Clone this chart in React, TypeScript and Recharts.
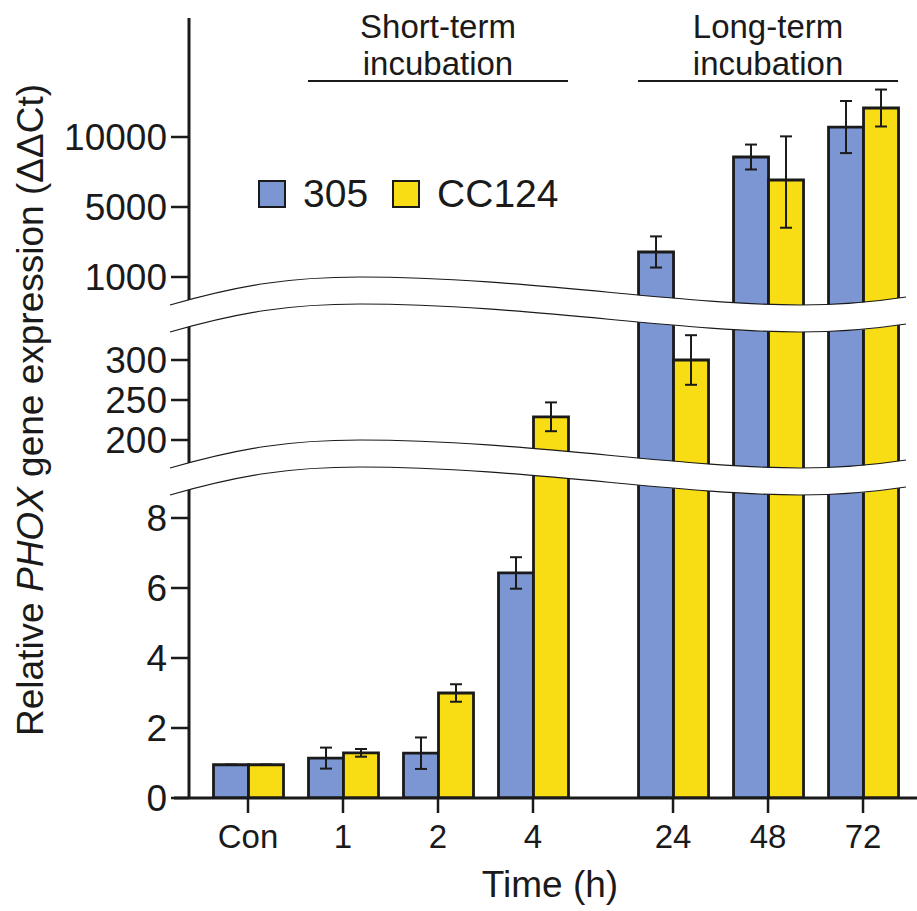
import React from 'react';
import { BarChart, Bar, XAxis, YAxis, ErrorBar, Legend } from 'recharts';

const TIMES = ['Con', '1', '2', '4', '24', '48', '72'];
const MEAN_305 = [0.95, 1.14, 1.28, 6.43, 2430, 8570, 10710];
const SD_305 = [0, 0.3, 0.45, 0.45, 890, 890, 1860];
const MEAN_CC124 = [0.95, 1.29, 3.0, 229, 300, 6930, 12070];
const SD_CC124 = [0, 0.11, 0.25, 18, 31, 3115, 1320];

const LOW_TICKS = [0, 2, 4, 6, 8];
const MID_TICKS = [200, 250, 300];
const HIGH_TICKS = [1000, 5000, 10000];

const FONT = '"Liberation Sans", Arial, sans-serif';
const INK = '#1a1a1a';
const BLUE = '#7b96d2';
const YELLOW = '#f8dc14';

const W = 917;
const H = 911;
const AXIS_X = 189;
const BASE_Y = 798;
const TOP_Y = 18;

// broken y axis: value -> px above the baseline, three linear pieces
const broken = (v: number) => {
  if (v < 100) return v * 35;
  if (v < 700) return 358 + (v - 200) * 0.8;
  if (v <= 5000) return 521 + (v - 1000) * 0.0175;
  return 591 + (v - 5000) * 0.014;
};

// long-term group sits a bit further right
const slotOf = (i: number) => i + (i >= 4 ? 0.474 : 0);
const X_MIN = (AXIS_X - 248) / 95;
const X_MAX = (W - 248) / 95;
const xPx = (s: number) => AXIS_X + ((s - X_MIN) / (X_MAX - X_MIN)) * (W - AXIS_X);

const errOf = (m: number, sd: number) => [broken(m) - broken(m - sd), broken(m + sd) - broken(m)];

const rows = TIMES.map((t, i) => ({
  time: t,
  slot: slotOf(i),
  a: broken(MEAN_305[i]),
  b: broken(MEAN_CC124[i]),
  aErr: errOf(MEAN_305[i], SD_305[i]),
  bErr: errOf(MEAN_CC124[i], SD_CC124[i]),
}));

const yTickVals = [...LOW_TICKS, ...MID_TICKS, ...HIGH_TICKS];
const yTicks = yTickVals.map(broken);
const yLabel = (d: number) => {
  const i = yTicks.findIndex((t) => Math.abs(t - d) < 0.01);
  return i >= 0 ? String(yTickVals[i]) : '';
};
const xLabel = (s: number) => {
  const i = rows.findIndex((r) => Math.abs(r.slot - s) < 0.01);
  return i >= 0 ? TIMES[i] : '';
};

const G = 27;
const band = (dy: number) => {
  const y = (v: number) => v + dy;
  const top = `M170 ${y(305)} C240 ${y(285)} 290 ${y(277)} 360 ${y(277)} C520 ${y(277)} 680 ${y(305)} 800 ${y(305)} C850 ${y(305)} 880 ${y(301)} 906 ${y(297)}`;
  const bot = `M170 ${y(305 + G)} C240 ${y(285 + G)} 290 ${y(277 + G)} 360 ${y(277 + G)} C520 ${y(277 + G)} 680 ${y(305 + G)} 800 ${y(305 + G)} C850 ${y(305 + G)} 880 ${y(301 + G)} 906 ${y(297 + G)}`;
  const fill = `${top} L906 ${y(297 + G)} C880 ${y(301 + G)} 850 ${y(305 + G)} 800 ${y(305 + G)} C680 ${y(305 + G)} 520 ${y(277 + G)} 360 ${y(277 + G)} C290 ${y(277 + G)} 240 ${y(285 + G)} 170 ${y(305 + G)} Z`;
  return (
    <g key={dy}>
      <path d={fill} fill="#fff" stroke="none" />
      <path d={top} fill="none" stroke={INK} strokeWidth={1.2} />
      <path d={bot} fill="none" stroke={INK} strokeWidth={1.2} />
    </g>
  );
};

const groups = [
  { lines: ['Short-term', 'incubation'], from: 1, to: 3 },
  { lines: ['Long-term', 'incubation'], from: 4, to: 6 },
];

const renderLegend = (props: any) => (
  <div style={{ display: 'flex', alignItems: 'center', fontFamily: FONT, fontSize: 39, color: INK, lineHeight: '39px' }}>
    {(props.payload || []).map((p: any) => (
      <div key={p.value} style={{ display: 'flex', alignItems: 'center', marginRight: 24 }}>
        <span style={{ width: 24, height: 24, background: p.color, border: `2px solid ${INK}`, marginRight: 17 }} />
        <span>{p.value}</span>
      </div>
    ))}
  </div>
);

export default function App() {
  return (
    <div style={{ position: 'absolute', left: 0, top: 0, width: W, height: H, background: '#fff' }}>
      <BarChart
        width={W}
        height={H}
        data={rows}
        margin={{ top: TOP_Y, right: 0, bottom: 0, left: 0 }}
        barGap={0}
      >
        <XAxis
          dataKey="slot"
          type="number"
          domain={[X_MIN, X_MAX]}
          allowDataOverflow
          ticks={rows.map((r) => r.slot)}
          interval={0}
          tickFormatter={xLabel}
          height={H - BASE_Y}
          axisLine={{ stroke: INK, strokeWidth: 3 }}
          tickLine={{ stroke: INK, strokeWidth: 2.5 }}
          tickSize={15}
          tickMargin={12}
          tick={{ fontSize: 33, fill: INK, fontFamily: FONT }}
          label={() => (
            <text x={550} y={897} textAnchor="middle" fontSize={37} fontFamily={FONT} fill={INK}>
              Time (h)
            </text>
          )}
        />
        <YAxis
          type="number"
          domain={[0, BASE_Y - TOP_Y]}
          allowDataOverflow
          ticks={yTicks}
          interval={0}
          tickFormatter={yLabel}
          width={AXIS_X}
          axisLine={{ stroke: INK, strokeWidth: 3 }}
          tickLine={{ stroke: INK, strokeWidth: 2.5 }}
          tickSize={18}
          tickMargin={4}
          tick={{ fontSize: 37, fill: INK, fontFamily: FONT }}
          label={() => (
            <text x={43} y={410} transform="rotate(-90 43 410)" textAnchor="middle" fontSize={37} fontFamily={FONT} fill={INK}>
              Relative <tspan fontStyle="italic">PHOX</tspan> gene expression (ΔΔCt)
            </text>
          )}
        />
        <Legend
          content={renderLegend}
          layout="horizontal"
          verticalAlign="middle"
          wrapperStyle={{ left: 258, top: 174, width: 'auto' }}
        />
        <Bar dataKey="a" name="305" fill={BLUE} stroke={INK} strokeWidth={2.8} barSize={35} isAnimationActive={false}>
          <ErrorBar dataKey="aErr" width={6} stroke={INK} strokeWidth={2} direction="y" />
        </Bar>
        <Bar dataKey="b" name="CC124" fill={YELLOW} stroke={INK} strokeWidth={2.8} barSize={35} isAnimationActive={false}>
          <ErrorBar dataKey="bErr" width={6} stroke={INK} strokeWidth={2} direction="y" />
        </Bar>
      </BarChart>
      <svg width={W} height={H} style={{ position: 'absolute', left: 0, top: 0, pointerEvents: 'none' }}>
        <line x1={174} y1={BASE_Y} x2={AXIS_X} y2={BASE_Y} stroke={INK} strokeWidth={3} />
        {band(0)}
        {band(163)}
        {groups.map((g) => {
          const x1 = xPx(slotOf(g.from)) - 35;
          const x2 = xPx(slotOf(g.to)) + 35;
          const cx = (x1 + x2) / 2;
          return (
            <g key={g.lines[0]}>
              <text x={cx} y={38} textAnchor="middle" fontSize={33} fontFamily={FONT} fill={INK}>{g.lines[0]}</text>
              <text x={cx} y={75} textAnchor="middle" fontSize={33} fontFamily={FONT} fill={INK}>{g.lines[1]}</text>
              <line x1={x1} y1={81} x2={x2} y2={81} stroke={INK} strokeWidth={2} />
            </g>
          );
        })}
      </svg>
    </div>
  );
}
